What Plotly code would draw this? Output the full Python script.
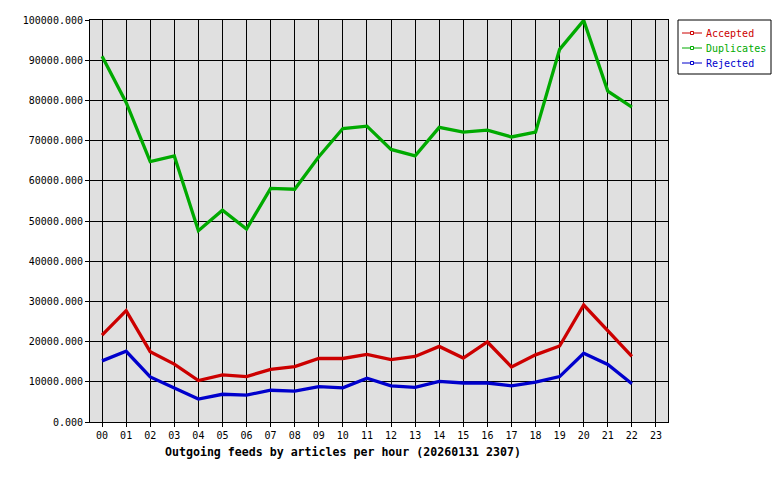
import plotly.graph_objects as go

hours = ["%02d" % h for h in range(24)]
accepted = [21600, 27700, 17500, 14400, 10300, 11700, 11300, 13100, 13800, 15800, 15800, 16800,
            15500, 16300, 18800, 15900, 19900, 13700, 16700, 18900, 29100, 22600, 16300]
duplicates = [91000, 79500, 64800, 66200, 47600, 52700, 48000, 58100, 57900, 66000, 73000, 73600,
              67800, 66200, 73300, 72100, 72600, 70900, 72100, 92700, 99900, 82300, 78300]
rejected = [15200, 17600, 11200, 8400, 5700, 6900, 6700, 7900, 7700, 8800, 8500, 10900,
            9000, 8600, 10100, 9700, 9700, 9000, 9900, 11300, 17100, 14300, 9500]
series = [("Accepted", accepted, "#cc0000"),
          ("Duplicates", duplicates, "#00aa00"),
          ("Rejected", rejected, "#0000cc")]
y_ticks = [i * 10000 for i in range(11)]
title_text = "Outgoing feeds by articles per hour (20260131 2307)"

font = "DejaVu Sans Mono"

# figure is placed 8px into the page by the default body margin
W, H = 772, 472
L, R, T, B = 82, 112, 12, 58
pw, ph = W - L - R, H - T - B


def px(x):
    return (x - L) / pw


def py(y):
    return (H - B - y) / ph


fig = go.Figure()
for name, vals, col in series:
    fig.add_trace(go.Scatter(
        x=hours[:len(vals)], y=vals, mode="lines", name=name, showlegend=False,
        line=dict(color=col, width=3.3),
    ))

shapes = [dict(type="rect", xref="paper", yref="paper",
               x0=px(670), x1=px(763), y0=py(12), y1=py(66),
               line=dict(color="black", width=1), fillcolor="white")]
annotations = []
for i, (name, vals, col) in enumerate(series):
    yy = 25 + 15 * i
    shapes.append(dict(type="line", xref="paper", yref="paper",
                       x0=px(674), x1=px(694), y0=py(yy), y1=py(yy),
                       line=dict(color=col, width=1)))
    shapes.append(dict(type="rect", xref="paper", yref="paper",
                       x0=px(682.5), x1=px(685.5), y0=py(yy - 1.5), y1=py(yy + 1.5),
                       line=dict(color=col, width=1), fillcolor="white"))
    annotations.append(dict(text=name, xref="paper", yref="paper",
                            x=px(696), y=py(yy), xanchor="left", yanchor="middle",
                            showarrow=False, font=dict(family=font, size=10, color=col)))

annotations.append(dict(text="<b>%s</b>" % title_text, xref="paper", yref="paper",
                        x=px(335), y=py(444), xanchor="center", yanchor="middle",
                        showarrow=False, font=dict(family=font, size=11.6, color="black")))

fig.update_layout(
    width=W, height=H,
    margin=dict(l=L, r=R, t=T, b=B, autoexpand=False),
    paper_bgcolor="white", plot_bgcolor="#e0e0e0",
    font=dict(family=font, size=10, color="black"),
    showlegend=False,
    xaxis=dict(type="category", categoryorder="array", categoryarray=hours,
               range=[-0.5, 23.5], showgrid=True, gridcolor="black", gridwidth=1,
               showline=True, linecolor="black", linewidth=1, mirror=True,
               ticks="outside", ticklen=4, tickcolor="black",
               tickfont=dict(family=font, size=10), zeroline=False),
    yaxis=dict(range=[0, 100000], tickvals=y_ticks, tickformat=".3f",
               showgrid=True, gridcolor="black", gridwidth=1,
               showline=True, linecolor="black", linewidth=1, mirror=True,
               ticks="outside", ticklen=4, tickcolor="black",
               tickfont=dict(family=font, size=10), zeroline=False),
    shapes=shapes,
    annotations=annotations,
)
fig.write_html("out.html")
